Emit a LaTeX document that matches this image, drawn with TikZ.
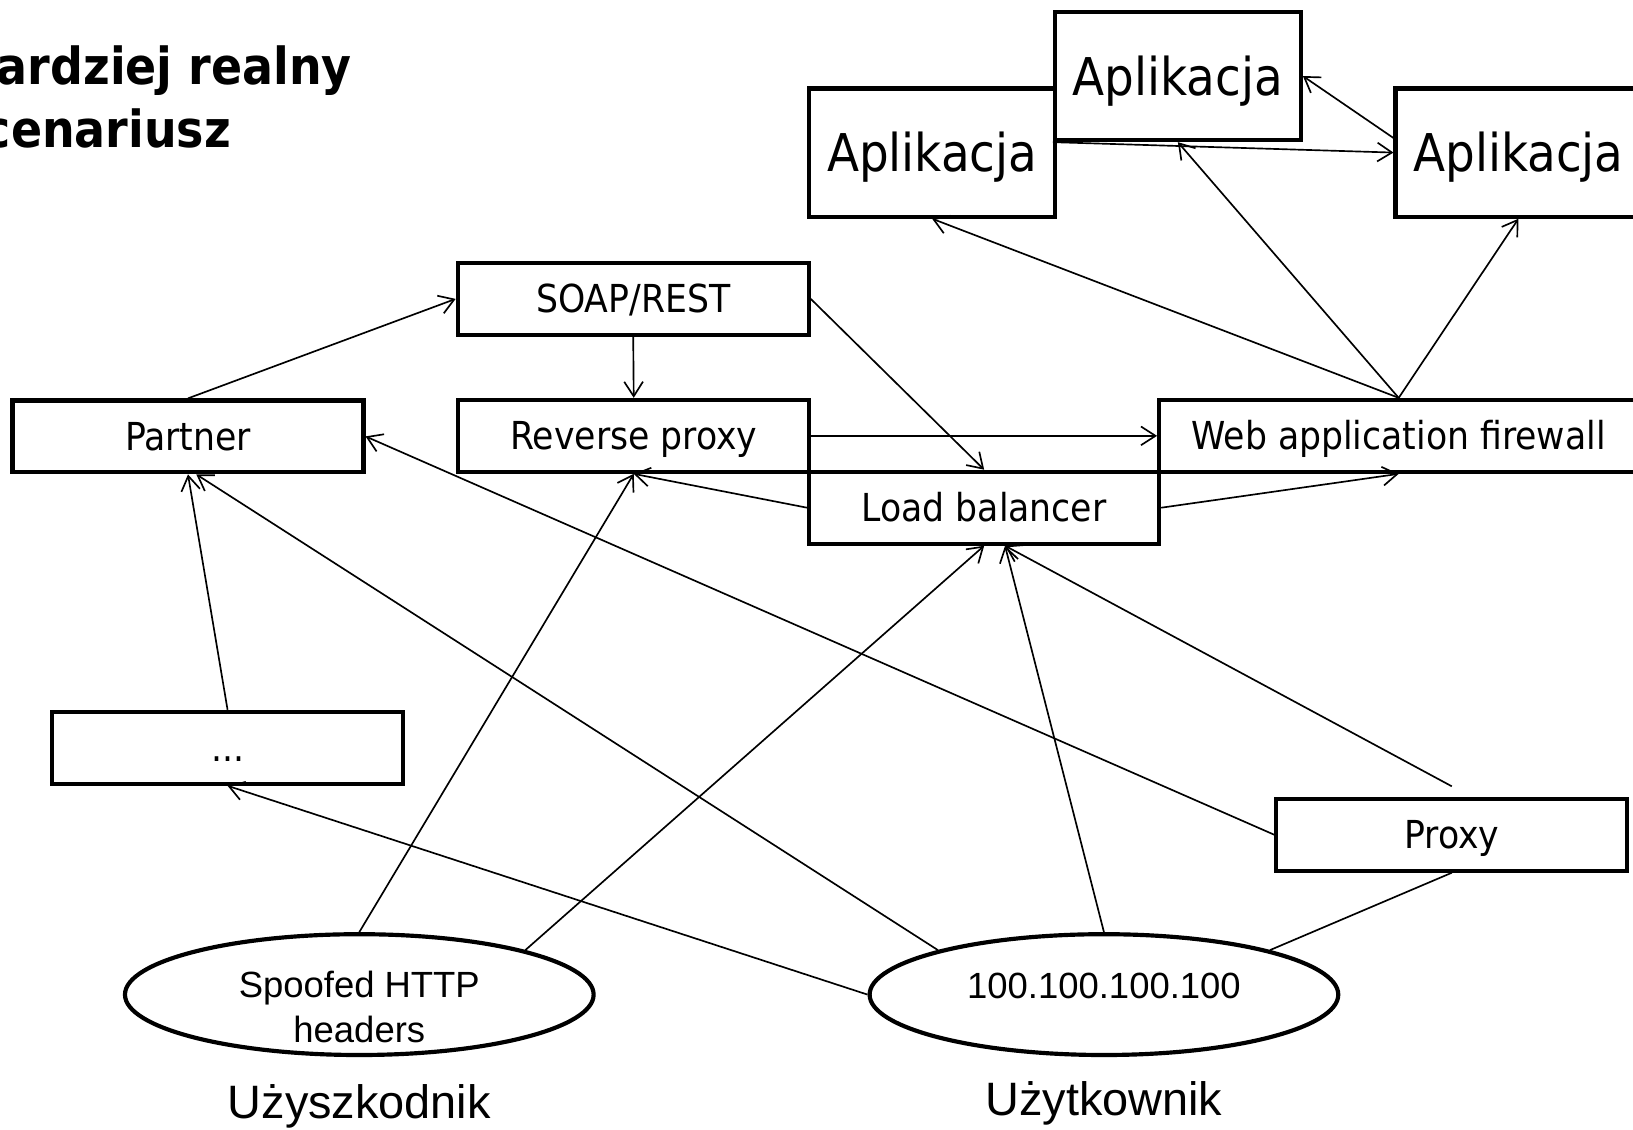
\documentclass[tikz,border=0pt]{standalone}
\usepackage{fontspec}
\setmainfont{Liberation Sans}
\newfontfamily\tah[BoldFont={DejaVu Sans Condensed Bold}]{DejaVu Sans Condensed}
\usetikzlibrary{arrows.meta,shapes.geometric,calc}
\begin{document}
\begin{tikzpicture}[x=1pt,y=-1pt,
  box/.style={draw, line width=4pt, minimum width=337pt, minimum height=69pt, inner sep=0pt,
    font=\tah\fontsize{37}{44}\selectfont, text height=27pt, text depth=0pt},
  app/.style={box, minimum width=236pt, minimum height=123pt,
    font=\tah\fontsize{50}{58}\selectfont, text height=37pt},
  ell/.style={draw, ellipse, line width=4pt, minimum width=450pt, minimum height=116pt, inner sep=0pt},
  atext/.style={font=\fontsize{35}{43}\selectfont, inner sep=0pt, align=center},
  utext/.style={font=\fontsize{45}{52}\selectfont, inner sep=0pt, anchor=base},
  titletext/.style={font=\tah\bfseries\fontsize{49}{59}\selectfont, inner sep=0pt, anchor=base east},
  conn/.style={line width=1.6pt, -{Straight Barb[length=14pt,width=18pt]}},
  plain/.style={line width=1.6pt}]
\useasboundingbox (0,0) rectangle (1568,1085);
% title
\node[titletext] (t1) at (338,81) {Bardziej realny};
\node[titletext] (t2) at (222,142) {scenariusz};
% boxes
\node[app] (appL) at (895,146.5) {Aplikacja};
\node[app] (appM) at (1131,73) {Aplikacja};
\node[app] (appR) at (1458,146.5) {Aplikacja};
\node[box] (soap) at (608,287) {SOAP/REST};
\node[box] (partner) at (180.5,419) {Partner};
\node[box] (rp) at (608.5,418.5) {Reverse proxy};
\node[box, minimum width=336pt] (lb) at (945,487.5) {Load balancer};
\node[box, minimum width=460pt] (waf) at (1343,418.5) {Web application firewall};
\node[box] (dots) at (218.5,718) {...};
\node[box] (proxy) at (1394,801.5) {Proxy};
\node[ell] (spoof) at (345,955) {};
\node[ell] (ip) at (1060,955) {};
\node[atext] (spooftxt) at (345,967) {Spoofed HTTP\\headers};
\node[atext, anchor=base] (iptxt) at (1060,958.5) {100.100.100.100};
\node[utext] (u1) at (345,1074) {Użyszkodnik};
\node[utext] (u2) at (1060,1071) {Użytkownik};
% connectors
\draw[conn] (partner.north) -- (soap.west);
\draw[conn] (soap.south) -- (rp.north);
\draw[conn] (soap.east) -- (lb.north);
\draw[conn] (rp.east) -- (waf.west);
\draw[conn] (lb.west) -- (rp.south);
\draw[conn] (lb.east) -- (waf.south);
\draw[conn] (waf.north) -- (appL.south);
\draw[conn] (waf.north) -- (appM.south);
\draw[conn] (waf.north) -- (appR.south);
\draw[conn] (appM.south west) -- (appR.west);
\draw[conn] ([yshift=14pt]appR.west) -- (appM.east);
\draw[conn] (dots.north) -- (partner.south);
\draw[conn] (ip.west) -- (dots.south);
\draw[conn] (ip.165) -- ([xshift=8pt]partner.south);
\draw[conn] (spoof.north) -- (rp.south);
\draw[conn] (spoof.15) -- (lb.south);
\draw[conn] (ip.north) -- ([xshift=20pt]lb.south);
\draw[conn] ([yshift=10pt]proxy.north) -- ([xshift=20pt]lb.south);
\draw[conn] (proxy.west) -- (partner.east);
\draw[plain] (proxy.south) -- (ip.15);
\end{tikzpicture}
\end{document}
